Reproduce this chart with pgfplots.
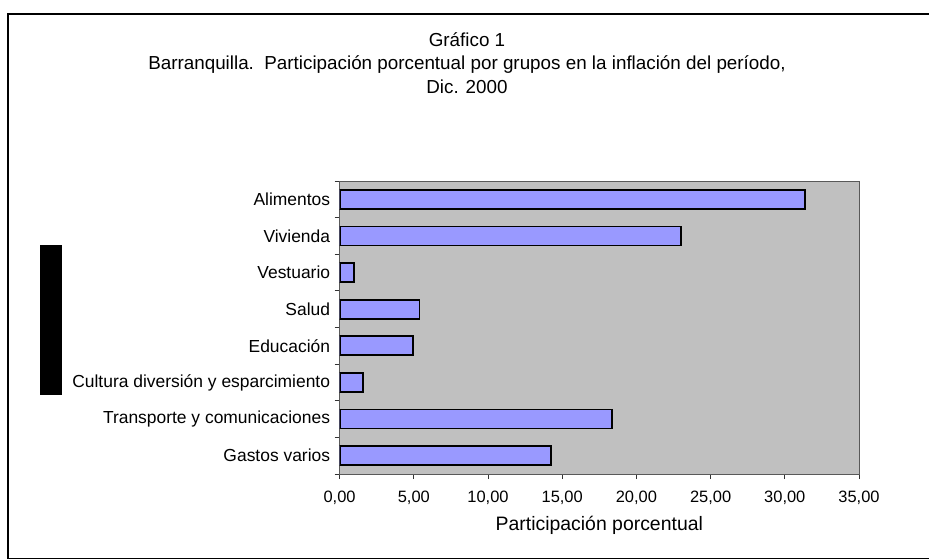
\documentclass[border=0pt]{standalone}
\usepackage{fontspec}
\setmainfont{Liberation Sans}
\usepackage{pgfplots}
\pgfplotsset{compat=1.18}
\definecolor{plotbg}{HTML}{C0C0C0}
\definecolor{barfill}{HTML}{9999FF}
\begin{document}
\begin{tikzpicture}
\useasboundingbox (0,0) rectangle (929bp,560bp);
\begin{scope}
\clip (0,0) rectangle (929bp,560bp);
\draw[black, line width=1.2bp] (8bp,1.5bp) rectangle (940bp,546bp);
\end{scope}
\fill[black] (40bp,165bp) rectangle (62bp,315bp);
\node[font=\fontsize{18.9}{23.5}\selectfont, align=center] at (467bp,497bp)
  {Gráfico 1\\Barranquilla.\ \ Participación porcentual por grupos en la inflación del período,\\Dic. 2000};
\begin{axis}[
  at={(339.6bp,86bp)}, anchor=south west,
  width=519.4bp, height=293bp, scale only axis,
  xmin=0, xmax=35, ymin=-0.5, ymax=7.5, y dir=reverse,
  xbar, bar width=19bp,
  axis background/.style={fill=plotbg},
  axis line style={draw=gray!70!black, line width=0.8bp},
  xtick={0,5,...,35},
  ytick={0,...,7},
  yticklabels={Alimentos,Vivienda,Vestuario,Salud,Educación,Cultura diversión y esparcimiento,Transporte y comunicaciones,Gastos varios},
  minor ytick={-0.5,0.5,...,7.5},
  major y tick style={draw=none},
  minor y tick style={draw=gray!40!black, line width=0.8bp},
  x tick style={draw=gray!40!black, line width=0.8bp},
  tick align=outside,
  major tick length=5bp, minor tick length=5bp,
  xtick pos=bottom, ytick pos=left,
  yticklabel style={font=\fontsize{17.5}{20}\selectfont, xshift=-1bp},
  xticklabel style={font=\fontsize{16.5}{19}\selectfont, yshift=-8bp},
  xlabel={Participación porcentual},
  xlabel style={font=\fontsize{19.5}{22}\selectfont, yshift=-5bp},
  /pgf/number format/.cd, fixed, fixed zerofill, precision=2, use comma, assume math mode=true,
]
\addplot[draw=black, fill=barfill, line width=1.8bp] coordinates {
  (31.37,0) (22.98,1) (0.95,2) (5.39,3) (4.92,4) (1.56,5) (18.38,6) (14.27,7)
};
\end{axis}
\end{tikzpicture}
\end{document}
